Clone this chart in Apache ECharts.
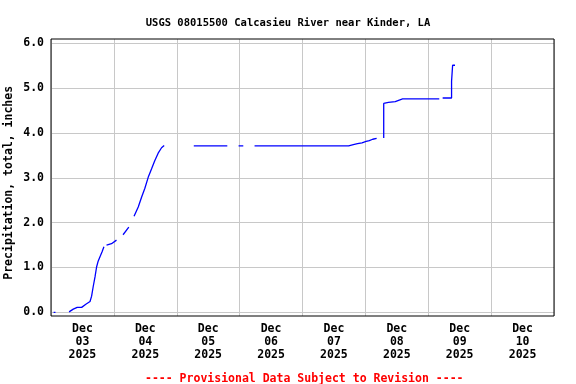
<!DOCTYPE html>
<html>
<head>
<meta charset="utf-8">
<script src="https://cdn.jsdelivr.net/npm/echarts@6/dist/echarts.min.js"></script>
<style>html,body{margin:0;padding:0;background:#fff;}#c{width:576px;height:384px;}</style>
</head>
<body>
<div id="c"></div>
<script>
// Hours since 2025-12-03 00:00 and cumulative precipitation (inches); null = gap
var hours = [1.0,1.7,3, 6.9,8.5,10.0,11.7,13.3,14.9,15.5,16.1,16.8,17.4,18.0,18.7,19.5,20.2,20.7,21.2,23.1,25.0,26,27.5,29.7,30.5,31.7,33.3,34.6,35.8,37.1,38.4,39.6,40.9,42.2,43.2,48,54.5,67.3,69,71.6,73.4,75,77.7,113.6,115.4,117.0,118.7,120.3,121.5,122.8,124.3,125.5,127.0,127.0,128.8,131.4,134.2,148.2,149,149.5,152.9,152.9,153.3,153.3,154.2];
var precip = [0,0,null, 0.01,0.07,0.11,0.11,0.18,0.24,0.36,0.57,0.79,1.01,1.14,1.24,1.35,1.46,null,1.50,1.53,1.61,null,1.73,1.90,null,2.14,2.35,2.57,2.76,3.01,3.20,3.38,3.55,3.67,3.72,null,3.71,3.71,null,3.71,3.71,null,3.71,3.71,3.74,3.76,3.78,3.81,3.83,3.86,3.88,null,3.89,4.66,4.68,4.70,4.76,4.76,null,4.78,4.78,5.15,5.15,5.51,5.51];
var dayLabels = ['Dec\n03\n2025','Dec\n04\n2025','Dec\n05\n2025','Dec\n06\n2025','Dec\n07\n2025','Dec\n08\n2025','Dec\n09\n2025','Dec\n10\n2025'];
var yTicks = [0,1,2,3,4,5,6];
var titleText = 'USGS 08015500 Calcasieu River near Kinder, LA';
var footerText = '---- Provisional Data Subject to Revision ----';
var yName = 'Precipitation, total, inches';

var data = hours.map(function(h,i){ return [h, precip[i] === null ? '-' : precip[i]]; });
var FONT = '"DejaVu Sans Mono", monospace';

var chart = echarts.init(document.getElementById('c'), null, {renderer:'canvas'});
chart.setOption({
  animation: false,
  backgroundColor: '#ffffff',
  title: [
    {text: titleText, left: 'center', top: 13, textStyle:{fontFamily:FONT, fontSize:10.5, fontWeight:'bold', color:'#000'}},
    {text: footerText, left: 140, top: 368, textStyle:{fontFamily:FONT, fontSize:11.5, fontWeight:'bold', color:'#ff0000'}}
  ],
  grid: [
    {left:51, right:22, top:39, bottom:68, show:true, borderColor:'#000', borderWidth:1, backgroundColor:'transparent', z:5, containLabel:false, outerBoundsMode:'none'},
    {left:51, right:22, top:43.3, bottom:71.7, containLabel:false, outerBoundsMode:'none'}
  ],
  xAxis: [
    {gridIndex:0, type:'value', min:0, max:192, interval:24, axisLine:{show:false}, axisTick:{show:false}, axisLabel:{show:false},
     splitLine:{show:true, lineStyle:{color:'#c8c8c8', width:1}}},
    {gridIndex:1, type:'value', min:0, max:192, show:false, splitLine:{show:false}},
    {gridIndex:0, type:'category', data:dayLabels, position:'bottom', boundaryGap:true,
     axisLine:{show:false}, axisTick:{show:false}, splitLine:{show:false},
     axisLabel:{margin:7, fontFamily:FONT, fontSize:11.5, fontWeight:'bold', color:'#000', lineHeight:12.7, interval:0}}
  ],
  yAxis: [
    {gridIndex:0, type:'value', min:0, max:1, show:false, splitLine:{show:false}},
    {gridIndex:1, type:'value', min:0, max:6, interval:1,
     axisLine:{show:false}, axisTick:{show:false},
     splitLine:{show:true, lineStyle:{color:'#c8c8c8', width:1}},
     axisLabel:{margin:7, fontFamily:FONT, fontSize:11.5, fontWeight:'bold', color:'#000',
       formatter:function(v){ return yTicks.indexOf(v) >= 0 ? v.toFixed(1) : ''; }},
     name: yName, nameLocation:'middle', nameGap:36, nameMoveOverlap:false,
     nameTextStyle:{fontFamily:FONT, fontSize:11.5, fontWeight:'bold', color:'#000', padding:[0,10,0,0]}}
  ],
  series: [{
    type:'line', xAxisIndex:1, yAxisIndex:1, data:data, showSymbol:false, symbol:'none',
    connectNulls:false, lineStyle:{color:'#0000ff', width:1.3}, itemStyle:{color:'#0000ff'}, z:3
  }]
});
</script>
</body>
</html>
